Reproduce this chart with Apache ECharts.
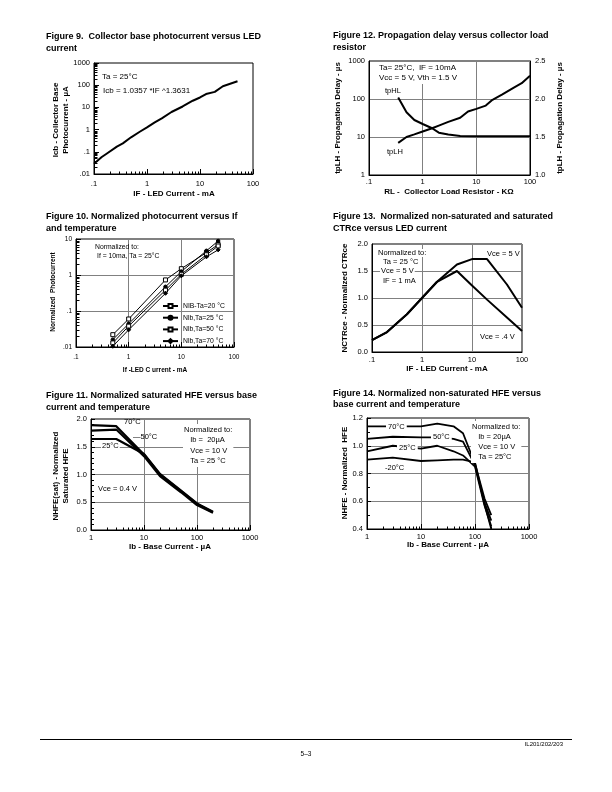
<!DOCTYPE html>
<html><head><meta charset="utf-8">
<script src="https://cdn.jsdelivr.net/npm/echarts@6/dist/echarts.min.js"></script>
<style>html,body{margin:0;padding:0;background:#fff}#c{width:612px;height:792px}</style>
</head><body><div id="c"></div><script>
const FONT = 'Liberation Sans, Arial, Helvetica, sans-serif';

// ---------- Figure 9 ----------
const fig9IF  = [0.1, 0.14, 0.17, 0.27, 0.35, 0.5, 0.73, 1, 1.4, 1.9, 2.9, 4.7, 7.3, 10, 13, 19, 27, 51];
const fig9Icb = [0.029, 0.058, 0.08, 0.17, 0.24, 0.45, 0.8, 1.25, 2.1, 3.2, 6.2, 11, 20, 28, 40, 50, 90, 150];

// ---------- Figure 12 ----------
const fig12RL_HL = [0.35, 0.5, 0.7, 1, 1.5, 2, 3, 5, 10, 100];
const fig12tpHL  = [110, 45, 28, 22, 17, 13, 11.7, 10.6, 10.5, 10.5];
const fig12RL_LH = [0.35, 0.5, 0.7, 1, 1.5, 2, 3, 5, 7, 10, 15, 20, 30, 50, 70, 100];
const fig12tpLH  = [7, 10, 11.7, 14, 17, 20, 25, 32, 47, 55, 67, 95, 130, 200, 260, 410];
const fig12RightTicks = [1.0, 2.5];

// ---------- Figure 10 ----------
const fig10IF = [0.5, 1, 5, 10, 30, 50];
const fig10Names = ['NIB-Ta=20 °C', 'Nlb,Ta=25 °C', 'Nlb,Ta=50 °C', 'Nlb,Ta=70 °C'];
const fig10m20 = [0.022, 0.06, 0.73, 1.5, 4.2, 7.0];
const fig10p25 = [0.016, 0.044, 0.47, 1.25, 4.7, 8.8];
const fig10p50 = [0.013, 0.038, 0.38, 1.05, 3.65, 6.4];
const fig10p70 = [0.0105, 0.03, 0.31, 0.95, 3.2, 5.0];

// ---------- Figure 13 ----------
const fig13IF   = [0.1, 0.2, 0.5, 1, 2, 5, 10, 20, 50, 100];
const fig13V5   = [0.22, 0.37, 0.7, 1.0, 1.3, 1.62, 1.72, 1.72, 1.25, 0.82];
const fig13V04  = [0.22, 0.37, 0.7, 1.0, 1.3, 1.5, 1.23, 0.97, 0.64, 0.39];

// ---------- Figure 11 ----------
const fig11Ib  = [1, 3, 10, 20, 50, 100, 200];
const fig11T70 = [1.89, 1.87, 1.36, 1.0, 0.7, 0.47, 0.32];
const fig11T50 = [1.79, 1.81, 1.33, 0.97, 0.68, 0.45, 0.31];
const fig11T25 = [1.64, 1.64, 1.37, 1.01, 0.71, 0.48, 0.33];

// ---------- Figure 14 ----------
const fig14Ib   = [1, 3, 10, 20, 40, 60, 100, 150, 200];
const fig14T70  = [1.14, 1.14, 1.14, 1.16, 1.14, 1.09, 0.87, 0.62, 0.5];
const fig14T50  = [1.05, 1.065, 1.06, 1.06, 1.05, 1.03, 0.86, 0.59, 0.46];
const fig14T25  = [0.96, 1.0, 0.98, 1.0, 0.96, 0.93, 0.85, 0.57, 0.42];
const fig14Tm20 = [0.9, 0.915, 0.89, 0.895, 0.9, 0.9, 0.88, 0.58, 0.4];

const pairs = (xs, ys) => xs.map((x, i) => [x, ys[i]]);
function fmtLog(v){ let s = String(+Number(v).toPrecision(6)); if (s.indexOf('0.') === 0) s = s.slice(1); return s; }
const fmt1 = v => Number(v).toFixed(1);

function gridBox(l, t, w, h){ return {left:l, top:t, width:w, height:h, show:true, borderColor:'#000', borderWidth:1, backgroundColor:'rgba(0,0,0,0)', containLabel:false}; }
const split = {show:true, lineStyle:{color:'#808080', width:1}};
const noSplit = {show:false};

function logAxis(gi, min, max, o){
  o = o || {};
  return {
    type:'log', logBase:10, gridIndex:gi, min:min, max:max, position:o.position,
    axisLine:{show:true, onZero:false, lineStyle:{color:'#000', width:1}},
    axisTick:{show:!!o.ticks, inside:true, length:5, lineStyle:{color:'#000', width:1}},
    axisLabel:{color:'#000', fontSize:o.fs || 7.5, fontFamily:FONT, margin:o.margin || 4, formatter:fmtLog},
    splitLine:o.split ? split : noSplit
  };
}
function valAxis(gi, min, max, interval, o){
  o = o || {};
  return {
    type:'value', gridIndex:gi, min:min, max:max, interval:interval, position:o.position,
    axisLine:{show:true, onZero:false, lineStyle:{color:'#000', width:1}},
    axisTick:{show:!!o.ticks, inside:true, length:4, lineStyle:{color:'#000', width:1}},
    minorTick:{show:!!o.minor, splitNumber:o.minor || 2, length:3, lineStyle:{color:'#000', width:1}},
    axisLabel:{color:'#000', fontSize:o.fs || 7.5, fontFamily:FONT, margin:o.margin || 4, formatter:fmt1},
    splitLine:o.split ? split : noSplit
  };
}

// minor tick helpers (2..9 per decade), drawn through the axes' own scales
function minorX(min, max, yAt){ const out=[]; for (let d=min; d<max*0.999; d=+(d*10).toPrecision(3)) for (let k=2;k<=9;k++) out.push([+(d*k).toPrecision(3), yAt, 0]); return out; }
function minorY(min, max, xAt){ const out=[]; for (let d=min; d<max*0.999; d=+(d*10).toPrecision(3)) for (let k=2;k<=9;k++) out.push([xAt, +(d*k).toPrecision(3), 1]); return out; }
function tickRender(params, api){
  const p = api.coord([api.value(0), api.value(1)]);
  const o = api.value(2);
  const x = Math.round(p[0]) + 0.5, y = Math.round(p[1]) + 0.5;
  const shape = o === 0 ? {x1:x, y1:y, x2:x, y2:y-3} : {x1:x, y1:y, x2:x+3, y2:y};
  return {type:'line', shape:shape, style:{stroke:'#000', lineWidth:1}};
}
function tickSeries(xi, yi, data){
  return {type:'custom', xAxisIndex:xi, yAxisIndex:yi, data:data, renderItem:tickRender, silent:true, z:5, encode:{x:0, y:1}};
}
function lineSeries(name, xi, yi, data, w, extra){
  return Object.assign({type:'line', name:name, xAxisIndex:xi, yAxisIndex:yi, data:data, symbol:'none',
    lineStyle:{color:'#000', width:w}, itemStyle:{color:'#000'}, z:3, clip:false}, extra || {});
}

// graphic helpers
function txt(x, y, text, o){
  o = o || {};
  const st = {text:text, x:0, y:0, fill:'#000', fontSize:o.fs || 8, fontFamily:FONT, fontWeight:o.bold ? 'bold' : 'normal',
    align:o.align || 'left', verticalAlign:o.va || 'middle', lineHeight:o.lh || undefined};
  if (o.bg) { st.backgroundColor = '#fff'; st.padding = o.pad || [0, 1]; }
  return {type:'text', x:x, y:y, rotation:o.rot || 0, z:100, style:st};
}
const R = Math.PI / 2;

const graphics = [
  // titles
  txt(46, 31, 'Figure 9.  Collector base photocurrent versus LED\ncurrent', {bold:true, fs:9, va:'top', lh:12}),
  txt(333, 30, 'Figure 12. Propagation delay versus collector load\nresistor', {bold:true, fs:9, va:'top', lh:12}),
  txt(46, 211, 'Figure 10. Normalized photocurrent versus If\nand temperature', {bold:true, fs:9, va:'top', lh:11.5}),
  txt(333, 211, 'Figure 13.  Normalized non-saturated and saturated\nCTRce versus LED current', {bold:true, fs:9, va:'top', lh:11.5}),
  txt(46, 390, 'Figure 11. Normalized saturated HFE versus base\ncurrent and temperature', {bold:true, fs:9, va:'top', lh:11.5}),
  txt(333, 388.5, 'Figure 14. Normalized non-saturated HFE versus\nbase current and temperature', {bold:true, fs:9, va:'top', lh:11}),
  // axis titles
  txt(61, 120, 'Icb - Collector Base\nPhotocurrent - µA', {bold:true, rot:R, align:'center', lh:9.5}),
  txt(174, 194, 'IF - LED Current - mA', {bold:true, align:'center'}),
  txt(338, 118, 'tpLH - Propagation Delay - µs', {bold:true, rot:R, align:'center'}),
  txt(560, 118, 'tpLH - Propagation Delay - µs', {bold:true, rot:R, align:'center'}),
  txt(449, 192, 'RL -  Collector Load Resistor - KΩ', {bold:true, align:'center'}),
  txt(53, 292, 'Normalized  Photocurrent', {bold:true, rot:R, align:'center', fs:6.5}),
  txt(155, 370, 'If -LED C urrent - mA', {bold:true, align:'center', fs:6.5}),
  txt(345, 298, 'NCTRce - Normalized CTRce', {bold:true, rot:R, align:'center'}),
  txt(447, 369, 'IF - LED Current - mA', {bold:true, align:'center'}),
  txt(61, 476, 'NHFE(sat) - Normalized\nSaturated HFE', {bold:true, rot:R, align:'center', lh:10}),
  txt(170, 547, 'Ib - Base Current - µA', {bold:true, align:'center'}),
  txt(345, 473, 'NHFE - Normalized  HFE', {bold:true, rot:R, align:'center'}),
  txt(448, 545, 'Ib - Base Current - µA', {bold:true, align:'center'}),
  // fig 9 notes
  txt(102, 77, 'Ta = 25°C'),
  txt(103, 91, 'Icb = 1.0357 *IF ^1.3631'),
  // fig 12 notes
  txt(377, 73, 'Ta= 25°C,  IF = 10mA\nVcc = 5 V, Vth = 1.5 V', {bg:true, lh:10, pad:[1,2]}),
  txt(385, 91, 'tpHL', {fs:7.5}),
  txt(387, 152, 'tpLH', {fs:7.5}),
  // fig 10 notes
  txt(95, 247, 'Normalized to:', {fs:6.8}),
  txt(97, 256, 'If = 10ma, Ta = 25°C', {fs:6.8}),
  // fig 13 notes
  txt(377, 253, 'Normalized to:', {fs:7.5, bg:true}),
  txt(382, 262, 'Ta = 25 °C', {fs:7.5, bg:true}),
  txt(380, 271, 'Vce = 5 V', {fs:7.5, bg:true}),
  txt(382, 281, 'IF = 1 mA', {fs:7.5, bg:true}),
  txt(487, 254, 'Vce = 5 V', {fs:7.5}),
  txt(480, 337, 'Vce = .4 V', {fs:7.5}),
  // fig 11 notes
  txt(124, 422, '70°C', {fs:7.5}),
  txt(133, 437, '—50°C', {fs:7.5}),
  txt(101, 446, '25°C', {fs:7.5, bg:true}),
  txt(183, 445.5, 'Normalized to:\n   Ib =  20µA\n   Vce = 10 V\n   Ta = 25 °C', {fs:7.5, bg:true, lh:10.3, pad:[1,1]}),
  txt(98, 489, 'Vce = 0.4 V', {fs:7.5}),
  // fig 14 notes
  txt(386, 427, '70°C', {fs:7.5, bg:true, pad:[0,2]}),
  txt(431, 437, '50°C', {fs:7.5, bg:true, pad:[0,2]}),
  txt(397, 448, '25°C', {fs:7.5, bg:true, pad:[0,2]}),
  txt(385, 468, '-20°C', {fs:7.5}),
  txt(471, 442, 'Normalized to:\n   Ib = 20µA\n   Vce = 10 V\n   Ta = 25°C', {fs:7.5, bg:true, lh:10, pad:[1,1]}),
  // footer
  {type:'line', shape:{x1:40, y1:739.5, x2:572, y2:739.5}, style:{stroke:'#000', lineWidth:1}, z:100},
  txt(563, 744, 'IL201/202/203', {fs:6, align:'right'}),
  txt(306, 754, '5–3', {fs:6.5, align:'center'})
];

const option = {
  animation:false,
  backgroundColor:'#fff',
  textStyle:{fontFamily:FONT},
  grid:[
    gridBox(94, 63, 159, 111),   // 0 fig 9
    gridBox(369, 61, 161, 114),  // 1 fig 12
    gridBox(76, 239, 158, 108),  // 2 fig 10
    gridBox(372, 244, 150, 108), // 3 fig 13
    gridBox(91, 419, 159, 111),  // 4 fig 11
    gridBox(367, 418, 162, 111)  // 5 fig 14
  ],
  xAxis:[
    logAxis(0, 0.1, 100, {ticks:true, margin:6}),
    logAxis(1, 0.1, 100, {split:true, margin:3}),
    logAxis(2, 0.1, 100, {ticks:true, split:true, fs:6.5, margin:7}),
    logAxis(3, 0.1, 100, {split:true, margin:4}),
    logAxis(4, 1, 1000, {ticks:true, split:true, margin:4}),
    logAxis(5, 1, 1000, {ticks:true, split:true, margin:4})
  ],
  yAxis:[
    logAxis(0, 0.01, 1000, {ticks:true}),
    logAxis(1, 1, 1000, {split:true}),
    logAxis(2, 0.01, 10, {ticks:true, split:true, fs:6.5}),
    valAxis(3, 0, 2, 0.5, {split:true}),
    valAxis(4, 0, 2, 0.5, {split:true, ticks:true, minor:5}),
    valAxis(5, 0.4, 1.2, 0.2, {split:true, ticks:true, minor:2}),
    valAxis(1, fig12RightTicks[0], fig12RightTicks[1], 0.5, {position:'right', margin:5})
  ],
  legend:{
    data:fig10Names, orient:'vertical', left:162, top:302.5, itemWidth:15, itemHeight:5, itemGap:4.7, padding:0,
    textStyle:{fontSize:6.8, fontFamily:FONT, color:'#000'}, selectedMode:false
  },
  series:[
    // fig 9
    lineSeries('Icb', 0, 0, pairs(fig9IF, fig9Icb), 2),
    tickSeries(0, 0, minorX(0.1, 100, 0.01)),
    tickSeries(0, 0, minorY(0.01, 1000, 0.1)),
    // fig 12
    lineSeries('tpHL', 1, 1, pairs(fig12RL_HL, fig12tpHL), 2),
    lineSeries('tpLH', 1, 1, pairs(fig12RL_LH, fig12tpLH), 2),
    // fig 10
    lineSeries(fig10Names[0], 2, 2, pairs(fig10IF, fig10m20), 1, {symbol:'rect', symbolSize:4, itemStyle:{color:'#fff', borderColor:'#000', borderWidth:1}}),
    lineSeries(fig10Names[1], 2, 2, pairs(fig10IF, fig10p25), 1, {symbol:'circle', symbolSize:3.5, itemStyle:{color:'#000', borderColor:'#000', borderWidth:1}}),
    lineSeries(fig10Names[2], 2, 2, pairs(fig10IF, fig10p50), 1, {symbol:'rect', symbolSize:4, itemStyle:{color:'#fff', borderColor:'#000', borderWidth:1}}),
    lineSeries(fig10Names[3], 2, 2, pairs(fig10IF, fig10p70), 1, {symbol:'diamond', symbolSize:4, itemStyle:{color:'#000', borderColor:'#000', borderWidth:1}}),
    tickSeries(2, 2, minorX(0.1, 100, 0.01)),
    tickSeries(2, 2, minorY(0.01, 10, 0.1)),
    // fig 13
    lineSeries('Vce = 5 V', 3, 3, pairs(fig13IF, fig13V5), 2),
    lineSeries('Vce = .4 V', 3, 3, pairs(fig13IF, fig13V04), 2),
    // fig 11
    lineSeries('70°C sat', 4, 4, pairs(fig11Ib, fig11T70), 2.2),
    lineSeries('50°C sat', 4, 4, pairs(fig11Ib, fig11T50), 2.2),
    lineSeries('25°C sat', 4, 4, pairs(fig11Ib, fig11T25), 2.2),
    tickSeries(4, 4, minorX(1, 1000, 0)),
    // fig 14
    lineSeries('70°C', 5, 5, pairs(fig14Ib, fig14T70), 1.8),
    lineSeries('50°C', 5, 5, pairs(fig14Ib, fig14T50), 1.8),
    lineSeries('25°C', 5, 5, pairs(fig14Ib, fig14T25), 1.8),
    lineSeries('-20°C', 5, 5, pairs(fig14Ib, fig14Tm20), 1.8),
    tickSeries(5, 5, minorX(1, 1000, 0.4))
  ],
  graphic:graphics
};

const chart = echarts.init(document.getElementById('c'), null, {renderer:'canvas', width:612, height:792});
chart.setOption(option);
</script></body></html>
